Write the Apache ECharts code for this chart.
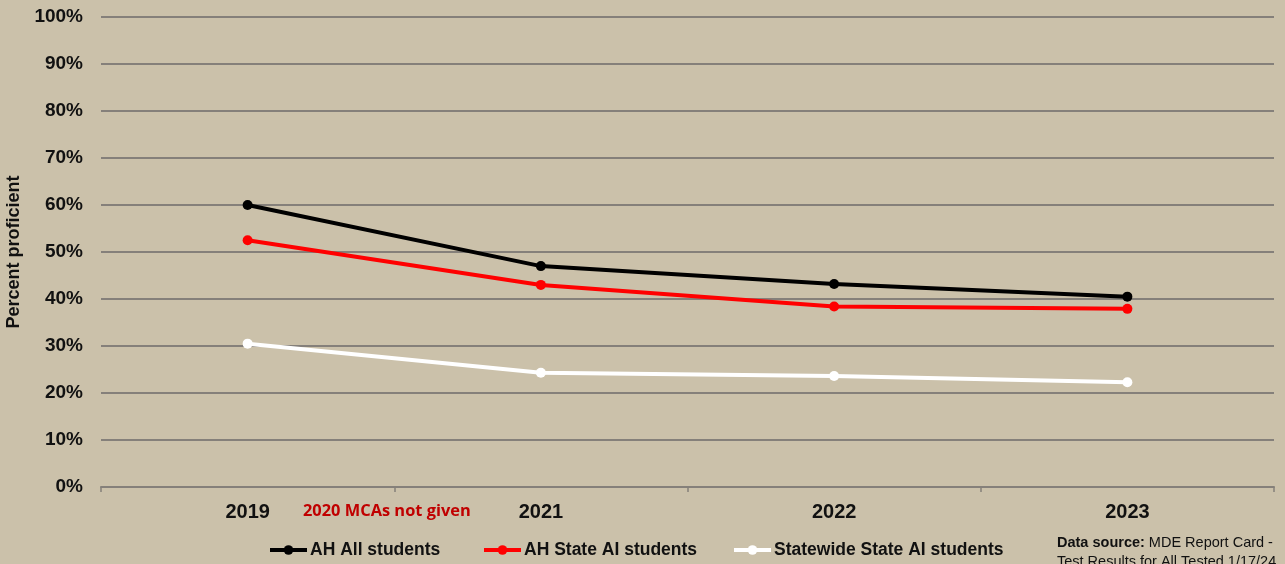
<!DOCTYPE html>
<html>
<head>
<meta charset="utf-8">
<script src="https://cdn.jsdelivr.net/npm/echarts@6/dist/echarts.min.js"></script>
<style>
  html, body { margin: 0; padding: 0; background: #CBC1AA; }
  #chart { width: 1285px; height: 564px; }
</style>
</head>
<body>
<div id="chart"></div>
<script>
// School years shown on the category axis (no test in 2020)
const years = ['2019', '2021', '2022', '2023'];

// Percent proficient for each group
const ahAllStudents = [60, 47, 43.2, 40.5];
const ahStateAIStudents = [52.5, 43, 38.4, 37.9];
const statewideStateAIStudents = [30.5, 24.3, 23.6, 22.3];

const seriesNames = ['AH All students', 'AH State AI students', 'Statewide State AI students'];
const seriesColors = ['#000000', '#FF0000', '#FFFFFF'];

const FONT = '"Liberation Sans", Arial, sans-serif';

const chart = echarts.init(document.getElementById('chart'));

function lineSeries(name, data, color) {
  return {
    name: name,
    type: 'line',
    data: data,
    symbol: 'circle',
    symbolSize: 10,
    lineStyle: { color: color, width: 4 },
    itemStyle: { color: color },
    emphasis: { disabled: true },
    z: 3
  };
}

// One legend block per series so each entry sits at its own spot
const legendLefts = [268, 482, 732];
const legends = seriesNames.map((name, i) => ({
  data: [name],
  left: legendLefts[i],
  top: 541,
  padding: 0,
  itemWidth: 37,
  itemHeight: 12,
  selectedMode: false,
  lineStyle: { width: 4 },
  textStyle: {
    color: '#111',
    fontFamily: FONT,
    fontSize: 17.5,
    fontWeight: 'bold',
    padding: [0, 0, 0, -2]
  }
}));

chart.setOption({
  backgroundColor: '#CBC1AA',
  animation: false,
  grid: { left: 101, right: 11, top: 17, bottom: 77, containLabel: false, outerBoundsMode: 'none' },
  xAxis: {
    type: 'category',
    data: years,
    boundaryGap: true,
    axisLine: { lineStyle: { color: '#85807A', width: 2 } },
    axisTick: { show: true, length: 5, lineStyle: { color: '#85807A', width: 1.5 } },
    axisLabel: {
      color: '#111',
      fontFamily: FONT,
      fontSize: 20,
      fontWeight: 'bold',
      margin: 15
    }
  },
  yAxis: {
    type: 'value',
    min: 0,
    max: 100,
    interval: 10,
    name: 'Percent proficient',
    nameLocation: 'middle',
    nameGap: 72,
    nameRotate: 90,
    nameTextStyle: {
      color: '#111',
      fontFamily: FONT,
      fontSize: 18,
      fontWeight: 'bold'
    },
    axisLine: { show: false },
    axisTick: { show: false },
    splitLine: { lineStyle: { color: '#85807A', width: 2 } },
    axisLabel: {
      formatter: '{value}%',
      color: '#111',
      fontFamily: FONT,
      fontSize: 19,
      fontWeight: 'bold',
      margin: 18,
      padding: [3, 0, 0, 0]
    }
  },
  legend: legends,
  graphic: [
    {
      type: 'text',
      left: 303,
      top: 503,
      style: {
        text: '2020 MCAs not given',
        fill: '#C00000',
        font: 'bold 16.4px "Open Sans", "Noto Sans", sans-serif'
      }
    },
    {
      type: 'text',
      left: 1057,
      top: 533,
      style: {
        text: '{b|Data source:} MDE Report Card -\nTest Results for All Tested 1/17/24',
        fill: '#111',
        font: '14.5px "Liberation Sans", Arial, sans-serif',
        lineHeight: 19,
        rich: {
          b: { fontWeight: 'bold', fontSize: 14.5, fontFamily: FONT, fill: '#111' }
        }
      }
    }
  ],
  series: seriesNames.map((name, i) =>
    lineSeries(name, [ahAllStudents, ahStateAIStudents, statewideStateAIStudents][i], seriesColors[i])
  )
});
</script>
</body>
</html>
